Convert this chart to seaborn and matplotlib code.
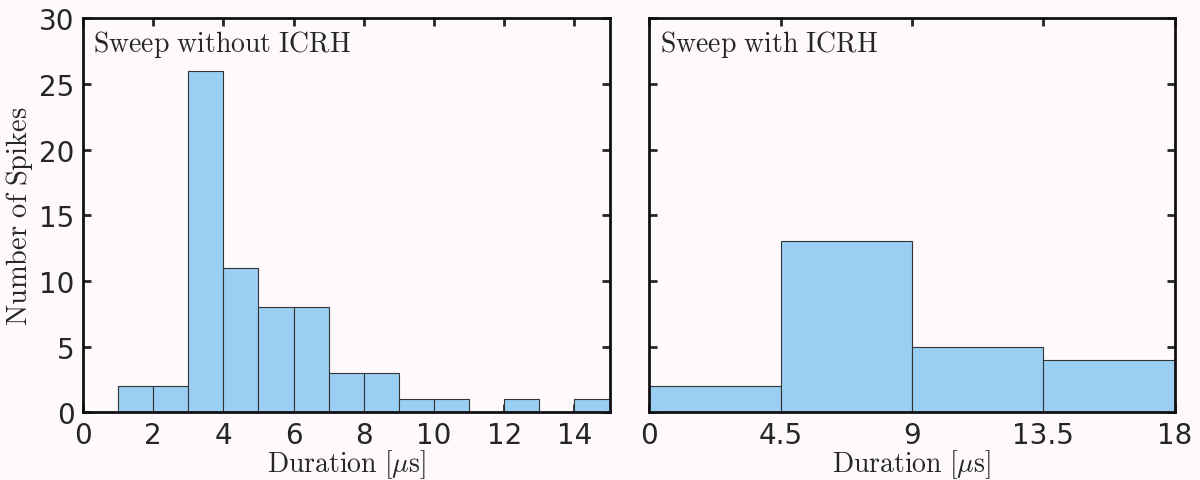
import numpy as np
import seaborn as sns
import matplotlib
matplotlib.use("Agg")
import matplotlib.pyplot as plt

# left panel: sweep without ICRH, 1 us bins
edges_no = [0, 1, 2, 3, 4, 5, 6, 7, 8, 9, 10, 11, 12, 13, 14, 15]
counts_no = [0, 2, 2, 26, 11, 8, 8, 3, 3, 1, 1, 0, 1, 0, 1]
# right panel: sweep with ICRH, 4.5 us bins
edges_icrh = [0, 4.5, 9, 13.5, 18]
counts_icrh = [2, 13, 5, 4]

xticks_no = [0, 2, 4, 6, 8, 10, 12, 14]
xticks_icrh = [0, 4.5, 9, 13.5, 18]
xticklabels_icrh = ["0", "4.5", "9", "13.5", "18"]
yticks = [0, 5, 10, 15, 20, 25, 30]

sns.set_style("ticks")
plt.rcParams["mathtext.fontset"] = "cm"
plt.rcParams["font.family"] = ["DejaVu Sans"]

bg = "#fdf9fd"
bar_color = "#9acff3"

fig = plt.figure(figsize=(12, 4.81), dpi=100, facecolor=bg)
ax1 = fig.add_axes([0.069, 0.141, 0.439, 0.819])
ax2 = fig.add_axes([0.541, 0.141, 0.438, 0.819])

panels = [
    (ax1, edges_no, counts_no, r"$\mathrm{Sweep\ without\ ICRH}$"),
    (ax2, edges_icrh, counts_icrh, r"$\mathrm{Sweep\ with\ ICRH}$"),
]
for ax, edges, counts, title in panels:
    centers = [(a + b) / 2 for a, b in zip(edges[:-1], edges[1:])]
    sns.histplot(x=centers, weights=counts, bins=edges, ax=ax,
                 color=bar_color, alpha=1, edgecolor="#333333", linewidth=0.8)
    ax.set_facecolor(bg)
    ax.set_xlim(edges[0], edges[-1])
    ax.set_ylim(0, 30)
    ax.set_yticks(yticks)
    ax.tick_params(direction="in", top=True, right=True, length=6, width=2,
                   labelsize=20, pad=6)
    for s in ax.spines.values():
        s.set_linewidth(2)
        s.set_color("#111111")
    ax.text(0.02, 0.975, title, transform=ax.transAxes, ha="left", va="top",
            fontsize=20)
    ax.set_xlabel(r"$\mathrm{Duration}\ [\mu\mathrm{s}]$", fontsize=20, labelpad=-1)

ax1.set_xticks(xticks_no)
ax1.set_ylabel(r"$\mathrm{Number\ of\ Spikes}$", fontsize=20.5, labelpad=3)
ax2.set_xticks(xticks_icrh)
ax2.set_xticklabels(xticklabels_icrh)
ax2.set_yticklabels([])
ax2.set_ylabel("")

fig.savefig("out.png", dpi=100, facecolor=bg)
